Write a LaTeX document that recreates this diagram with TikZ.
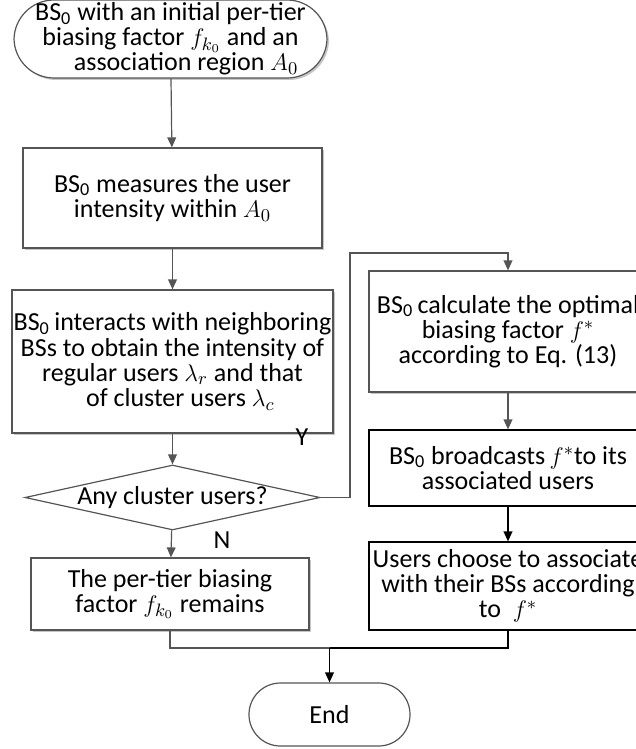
\documentclass[tikz,border=0pt]{standalone}
\usepackage[no-math]{fontspec}
\setmainfont{Carlito}
\usetikzlibrary{shapes.geometric,shadows,arrows.meta}
\definecolor{linegray}{RGB}{85,85,85}

\begin{document}
\begin{tikzpicture}[x=0.5pt,y=-0.5pt,
	txt/.style={font=\fontsize{13}{12.6}\selectfont},
	box/.style={txt,draw=linegray,line width=0.6pt,fill=white,align=center,inner sep=0pt},
	blackbox/.style={box,draw=black},
	shade/.style={drop shadow={shadow xshift=1pt,shadow yshift=-1pt,fill=gray!45,opacity=1}},
	term/.style={box,rounded corners=20pt},
	dec/.style={draw=linegray,line width=0.6pt,shape=diamond,inner sep=0pt},
	arr/.style={draw=linegray,line width=0.6pt,-{Triangle[length=5pt,width=4.4pt]}},
	blackarr/.style={arr,draw=black,fill=black}]
	
	\useasboundingbox (0,0) rectangle (636,749);
	\clip (0,0) rectangle (636,749);
	
	\node[term,shade,minimum width=156.5pt,minimum height=39pt] (start) at (170.5,39)
		{BS\textsubscript{0} with an initial per-tier\\ biasing factor $f_{k_0}$ and an\\ \hspace{1.2em}association region $A_0$};
	\node[box,shade,minimum width=149.5pt,minimum height=50pt] (measure) at (172.5,198)
		{BS\textsubscript{0} measures the user\\ intensity within $A_0$};
	\node[box,shade,minimum width=160.5pt,minimum height=71.5pt] (interact) at (172.5,361.5)
		{BS\textsubscript{0}\,interacts with neighboring\\ BSs to obtain the intensity of\\ regular users $\lambda_r$ and that\\ \hspace{0.6em}of cluster users $\lambda_c$};
	\node[dec,minimum width=147.5pt,minimum height=32.5pt,label={[txt]center:Any cluster users?}] (decide) at (172.5,497.5) {};
	\node[box,shade,minimum width=139pt,minimum height=36pt] (remain) at (170,594)
		{The per-tier biasing\\ factor $f_{k_0}$ remains};
	
	\node[box,shade,minimum width=139pt,minimum height=60.5pt] (calc) at (508,331.5)
		{BS\textsubscript{0}\,calculate the optimal\\ biasing factor $f^*$\\ according to Eq. (13)};
	\node[blackbox,minimum width=139pt,minimum height=38pt] (broadcast) at (508,468)
		{BS\textsubscript{0} broadcasts\,$f^*$to its\\ associated users};
	\node[blackbox,minimum width=139pt,minimum height=44pt] (assoc) at (508,586)
		{Users choose to associate\\ with their BSs according\\ to\ \ $f^*$};
	
	\node[term,minimum width=80.5pt,minimum height=31.5pt,rounded corners=15.7pt] (stop) at (329.5,714.5) {End};
	
	\node[txt] (ylab) at (302,437) {Y};
	\node[txt] (nlab) at (222,540) {N};
	
	\coordinate (ybend) at (350,253);
	\coordinate (merge) at (329.5,648);
	
	\draw[arr] (start) -- (measure);
	\draw[arr] (measure) -- (interact);
	\draw[arr] (interact) -- (decide);
	\draw[arr] (decide) -- (remain);
	\draw[arr] (decide.east) -| (ybend) -| (calc.north);
	\draw[arr] (calc) -- (broadcast);
	\draw[blackarr] (broadcast) -- (assoc);
	
	\draw[draw=linegray,line width=0.6pt] (remain.south) |- (merge);
	\draw[line width=0.6pt] (assoc.south) |- (merge);
	\draw[blackarr] (merge) -- (stop);
	
\end{tikzpicture}
\end{document}
